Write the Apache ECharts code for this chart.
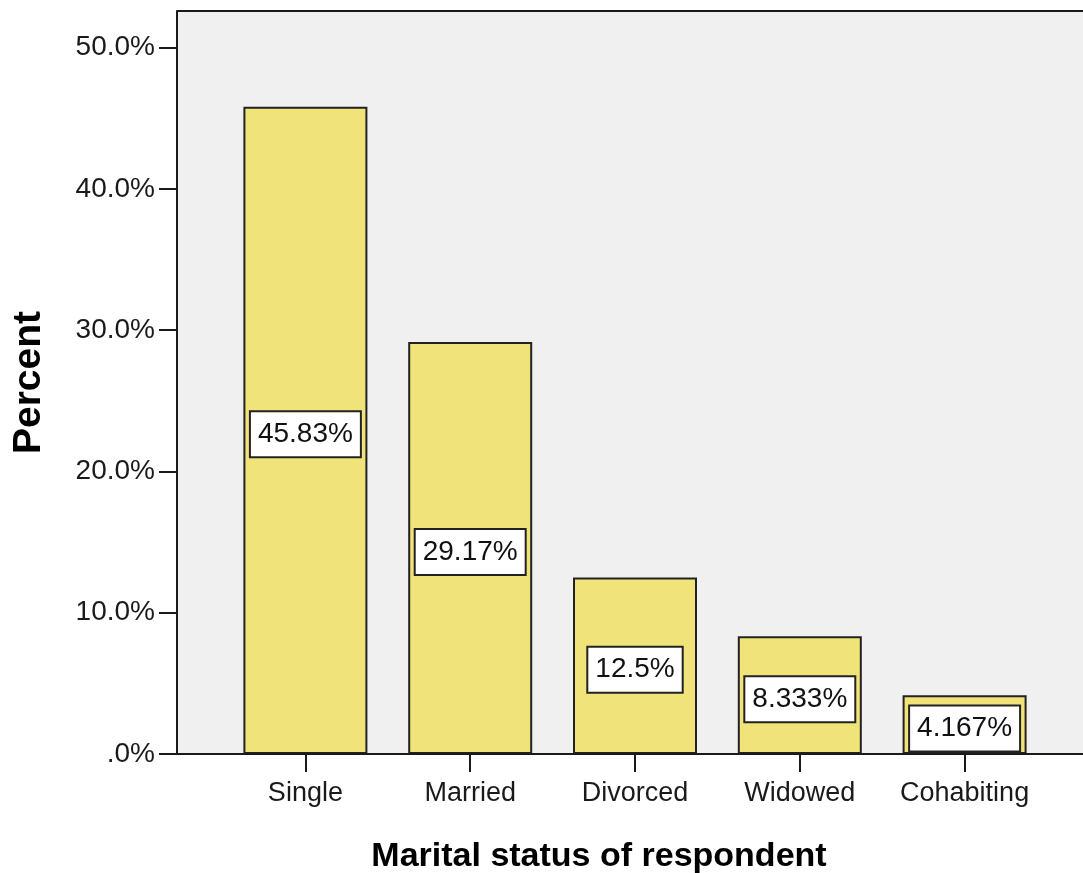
<!DOCTYPE html>
<html>
<head>
<meta charset="utf-8">
<title>Marital status of respondent</title>
<script src="https://cdn.jsdelivr.net/npm/echarts@6/dist/echarts.min.js"></script>
<style>
  html, body { margin: 0; padding: 0; background: #fff; }
  #barDiv { width: 1083px; height: 873px; }
</style>
</head>
<body>
<div id="barDiv"></div>
<script>
// data
const categories = ['Single', 'Married', 'Divorced', 'Widowed', 'Cohabiting']
const percents = [45.83, 29.17, 12.5, 8.333, 4.167]
const yTicks = [0, 10, 20, 30, 40, 50]

const font = "'Liberation Sans', Arial, sans-serif"
const ink = '#1a1a1a'

var barChart = echarts.init(document.getElementById('barDiv'))

var option = {
  animation: false,
  grid: {
    left: 223,
    right: 36,
    top: 11,
    bottom: 119,
    outerBoundsMode: 'none',
    containLabel: false
  },
  // plot frame that runs past the category bands
  graphic: [
    {
      type: 'rect',
      z: -10,
      shape: { x: 177, y: 11, width: 906, height: 743 },
      style: { fill: '#f0f0f0' }
    },
    {
      type: 'line',
      z: 100,
      shape: { x1: 177, y1: 11, x2: 1083, y2: 11 },
      style: { stroke: ink, lineWidth: 2 }
    },
    {
      type: 'line',
      z: 100,
      shape: { x1: 177, y1: 754, x2: 1083, y2: 754 },
      style: { stroke: ink, lineWidth: 2 }
    }
  ],
  xAxis: {
    type: 'category',
    data: categories,
    name: 'Marital status of respondent',
    nameLocation: 'middle',
    nameGap: 86,
    nameTextStyle: {
      fontFamily: font,
      fontSize: 34,
      fontWeight: 'bold',
      color: '#000',
      padding: [0, 72, 0, 0]
    },
    axisLine: {
      show: true,
      lineStyle: { color: ink, width: 2 }
    },
    axisTick: {
      show: true,
      alignWithLabel: true,
      length: 18,
      lineStyle: { color: ink, width: 2 }
    },
    axisLabel: {
      interval: 0,
      margin: 26,
      fontFamily: font,
      fontSize: 27,
      color: ink
    }
  },
  yAxis: {
    type: 'value',
    min: 0,
    max: 52.6,
    offset: 46,
    name: 'Percent',
    nameLocation: 'middle',
    nameRotate: 90,
    nameGap: 128,
    nameTextStyle: {
      fontFamily: font,
      fontSize: 39,
      fontWeight: 'bold',
      color: '#000'
    },
    splitLine: { show: false },
    axisLine: {
      show: true,
      lineStyle: { color: ink, width: 2 }
    },
    axisTick: {
      show: true,
      length: 18,
      customValues: yTicks,
      lineStyle: { color: ink, width: 2 }
    },
    axisLabel: {
      margin: 22,
      customValues: yTicks,
      fontFamily: font,
      fontSize: 28,
      color: ink,
      formatter: function (v) {
        return v === 0 ? '.0%' : v.toFixed(1) + '%'
      }
    }
  },
  series: [
    {
      name: 'Percent',
      type: 'bar',
      data: percents,
      barWidth: 124,
      itemStyle: {
        color: '#efe37a',
        borderColor: '#222',
        borderWidth: 2
      },
      label: {
        show: true,
        position: 'inside',
        offset: [0, 4],
        formatter: function (p) {
          return p.value + '%'
        },
        fontFamily: font,
        fontSize: 28,
        lineHeight: 28,
        color: '#111',
        backgroundColor: '#fff',
        borderColor: '#222',
        borderWidth: 2,
        padding: [8, 7]
      }
    }
  ]
}

barChart.setOption(option)
</script>
</body>
</html>
